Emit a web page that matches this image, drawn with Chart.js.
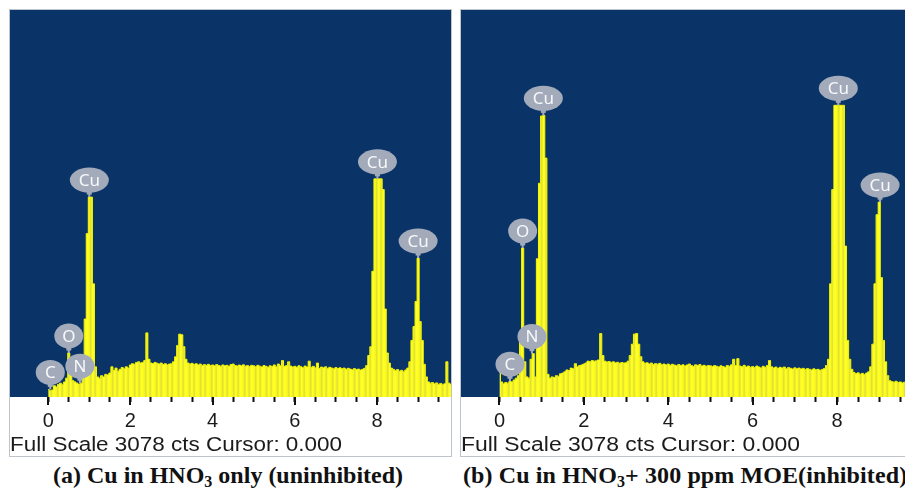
<!DOCTYPE html>
<html>
<head>
<meta charset="utf-8">
<script src="https://cdn.jsdelivr.net/npm/chart.js@4/dist/chart.umd.min.js"></script>
<style>
  html, body { margin: 0; padding: 0; background: #fff; }
  body { width: 905px; height: 492px; overflow: hidden; position: relative; }
  .panel { position: absolute; top: 9px; height: 446px; border: 1px solid #bfc4cc; }
  #panelA { left: 9px; width: 441px; }
  #panelB { left: 460px; width: 452px; }
  .panel canvas { display: block; }
  .cap { position: absolute; top: 463px; font: bold 24px/24px "Liberation Serif", "Times New Roman", serif; color: #111; white-space: nowrap; }
  .cap .sub { font-size: 16px; vertical-align: -4px; }
</style>
</head>
<body>
<div class="panel" id="panelA"><canvas id="edsA" width="441" height="446"></canvas></div>
<div class="panel" id="panelB"><canvas id="edsB" width="452" height="446"></canvas></div>
<div class="cap" style="left:53px">(a) Cu in HNO<span class="sub">3</span> only (uninhibited)</div>
<div class="cap" style="left:463px; letter-spacing:0.1px">(b) Cu in HNO<span class="sub">3</span>+ 300 ppm MOE(inhibited)</div>

<script>
// EDS spectra: counts per 0.05 keV channel, first channel at 0.00 keV
const STEP_KEV = 0.05;
const FULL_SCALE = 3078;
const X_MAX = 9.8;
const TICK_VALUES = [0, 2, 4, 6, 8];
const FOOTER = 'Full Scale 3078 cts Cursor: 0.000';

// (a) Cu in HNO3 only
const countsA = [
  60, 50, 55, 90, 80, 100, 110, 100, 120, 150, 350, 200, 130, 120, 110, 100, 110, 160, 620, 1300,
  1590, 1590, 900, 240, 160, 150, 170, 160, 180, 175, 190, 240, 210, 230, 205, 220, 235, 225, 240, 230,
  255, 265, 260, 275, 280, 270, 275, 290, 510, 300, 270, 265, 275, 268, 262, 270, 258, 265, 255, 262,
  265, 280, 320, 410, 500, 495, 400, 300, 270, 262, 268, 258, 265, 255, 262, 250, 258, 252, 260, 250,
  255, 248, 258, 250, 245, 255, 248, 252, 244, 258, 262, 250, 246, 254, 248, 256, 245, 250, 242, 252,
  248, 240, 252, 245, 238, 250, 244, 236, 248, 242, 255, 240, 262, 248, 290, 244, 250, 280, 246, 238,
  244, 236, 248, 240, 232, 246, 238, 285, 236, 244, 232, 270, 228, 238, 232, 240, 226, 236, 230, 224,
  234, 226, 232, 224, 230, 220, 228, 222, 216, 226, 218, 222, 214, 220, 228, 250, 330, 400, 1000, 1735,
  1735, 1735, 1735, 1650, 700, 350, 270, 230, 220, 210, 218, 205, 212, 200, 215, 230, 280, 450, 560, 760,
  1105, 600, 450, 260, 160, 120, 110, 115, 105, 112, 100, 108, 98, 105, 280, 110, 100
];
const elementsA = ['C', 'O', 'N', 'Cu', 'Cu', 'Cu'];
const energiesA = [0.05, 0.50, 0.77, 1.00, 8.01, 9.00];

// (b) Cu in HNO3 + 300 ppm MOE
const countsB = [
  200, 120, 105, 115, 110, 125, 120, 135, 150, 170, 520, 1185, 280, 160, 150, 300, 345, 160, 1100, 1700,
  2235, 2240, 1900, 180, 150, 160, 155, 170, 165, 185, 190, 200, 215, 210, 230, 225, 265, 240, 250, 255,
  262, 270, 285, 280, 290, 285, 288, 295, 505, 330, 285, 278, 282, 275, 280, 272, 276, 268, 274, 270,
  272, 285, 330, 420, 500, 505, 420, 320, 280, 268, 272, 262, 270, 258, 266, 260, 268, 256, 262, 255,
  262, 252, 260, 254, 248, 258, 250, 256, 246, 255, 262, 250, 244, 256, 250, 258, 246, 252, 244, 250,
  248, 242, 250, 244, 238, 248, 242, 236, 250, 244, 256, 300, 250, 305, 246, 240, 252, 238, 246, 236,
  242, 234, 246, 238, 230, 244, 236, 250, 290, 240, 230, 238, 226, 236, 230, 238, 224, 234, 228, 222,
  232, 224, 230, 222, 228, 218, 226, 220, 214, 224, 216, 220, 212, 218, 226, 250, 300, 900, 1650, 2320,
  2320, 2320, 2320, 2320, 1200, 450, 300, 220, 195, 185, 192, 180, 188, 178, 190, 200, 240, 420, 900, 1450,
  1550, 950, 450, 280, 170, 130, 122, 118, 125, 115, 120, 112, 118, 110, 115, 108, 112
];
const elementsB = ['C', 'O', 'N', 'Cu', 'Cu', 'Cu'];
const energiesB = [0.25, 0.55, 0.77, 1.04, 8.03, 9.02];

// vertical striped yellow used to fill the spectrum
function stripeFill(ctx) {
  const cols = ['#ffff22', '#fafa1e', '#f4f424', '#e2e232', '#ecec2a', '#ffff24', '#fbfb20', '#ebeb2c', '#e4e434', '#f8f822', '#ffff26'];
  const c = document.createElement('canvas');
  c.width = cols.length; c.height = 1;
  const g = c.getContext('2d');
  cols.forEach((col, i) => { g.fillStyle = col; g.fillRect(i, 0, 1, 1); });
  return ctx.createPattern(c, 'repeat');
}

const edsPanel = {
  id: 'edsPanel',
  beforeDraw(chart, args, opts) {
    const { ctx, chartArea: a } = chart;
    ctx.save();
    ctx.fillStyle = opts.plotColor;
    ctx.fillRect(a.left, a.top, a.right - a.left, a.bottom - a.top);
    ctx.restore();
  },
  afterDatasetsDraw(chart, args, opts) {
    const { ctx } = chart;
    const xs = chart.scales.x, ys = chart.scales.y;
    const pts = chart.data.datasets[0].data;
    ctx.save();
    opts.names.forEach((name, k) => {
      const e = opts.energies[k];
      const i = Math.round(e / STEP_KEV);
      let peak = 0;
      for (let j = Math.max(0, i - 1); j <= Math.min(pts.length - 1, i + 1); j++) peak = Math.max(peak, pts[j].y);
      const px = xs.getPixelForValue(e);
      const py = ys.getPixelForValue(peak);
      const rx = name.length > 1 ? 19.5 : 14.5, ry = 12.5;
      const cy = py - 17;
      ctx.fillStyle = '#a3abbb';
      ctx.fillRect(px - 2.5, cy + ry - 3, 5, 5);
      ctx.fillRect(px - 1, cy + ry, 2, Math.max(0, py - (cy + ry)));
      ctx.beginPath();
      ctx.ellipse(px, cy, rx, ry, 0, 0, Math.PI * 2);
      ctx.fill();
      ctx.fillStyle = '#f7f8fa';
      ctx.font = '17px "Noto Sans", "Liberation Sans", sans-serif';
      ctx.textAlign = 'center';
      ctx.textBaseline = 'middle';
      ctx.fillText(name, px, cy + 1);
    });
    ctx.restore();
  },
  afterDraw(chart, args, opts) {
    const { ctx, chartArea: a } = chart;
    const xs = chart.scales.x;
    ctx.save();
    // longer marks at the labelled energies
    ctx.strokeStyle = '#111';
    ctx.lineWidth = 2;
    TICK_VALUES.forEach(v => {
      const px = Math.round(xs.getPixelForValue(v));
      ctx.beginPath();
      ctx.moveTo(px, a.bottom);
      ctx.lineTo(px, a.bottom + 8);
      ctx.stroke();
    });
    // status line under the axis
    ctx.fillStyle = '#1b1b1b';
    ctx.font = '20px "Liberation Sans", Arial, sans-serif';
    ctx.textAlign = 'left';
    ctx.textBaseline = 'alphabetic';
    ctx.translate(0, opts.footerY);
    ctx.scale(opts.stretch, 1);
    ctx.fillText(FOOTER, 0, 0);
    ctx.restore();
  }
};

function makeChart(id, counts, names, energies, xMin, stretch) {
  const canvas = document.getElementById(id);
  const data = counts.map((c, i) => ({ x: +(i * STEP_KEV).toFixed(2), y: c }));
  return new Chart(canvas, {
    type: 'line',
    data: {
      datasets: [{
        data,
        stepped: 'middle',
        fill: 'origin',
        backgroundColor: stripeFill(canvas.getContext('2d')),
        borderColor: '#f6f600',
        borderWidth: 1,
        pointRadius: 0
      }]
    },
    options: {
      responsive: false,
      animation: false,
      devicePixelRatio: 1,
      layout: { padding: { left: 0, right: 0, top: 0, bottom: 23 } },
      plugins: {
        legend: { display: false },
        tooltip: { enabled: false },
        edsPanel: { plotColor: '#0a3467', names, energies, footerY: 441, stretch }
      },
      scales: {
        x: {
          type: 'linear',
          min: xMin,
          max: X_MAX,
          afterBuildTicks: s => { s.ticks = s.ticks.filter(t => t.value >= 0); },
          afterFit: s => { s.height = 36; },
          border: { display: false },
          grid: { drawOnChartArea: false, drawTicks: true, tickLength: 5, tickWidth: 2, tickColor: '#111' },
          ticks: {
            stepSize: 0.5,
            includeBounds: false,
            autoSkip: false,
            maxRotation: 0,
            padding: 7,
            color: '#1b1b1b',
            font: { family: '"Liberation Sans", Arial, sans-serif', size: 20 },
            callback: v => TICK_VALUES.includes(v) ? String(v) : ''
          }
        },
        y: { display: false, min: 0, max: FULL_SCALE }
      }
    },
    plugins: [edsPanel]
  });
}

makeChart('edsA', countsA, elementsA, energiesA, -0.93, 1.123);
makeChart('edsB', countsB, elementsB, energiesB, -0.911, 1.146);
</script>
</body>
</html>
